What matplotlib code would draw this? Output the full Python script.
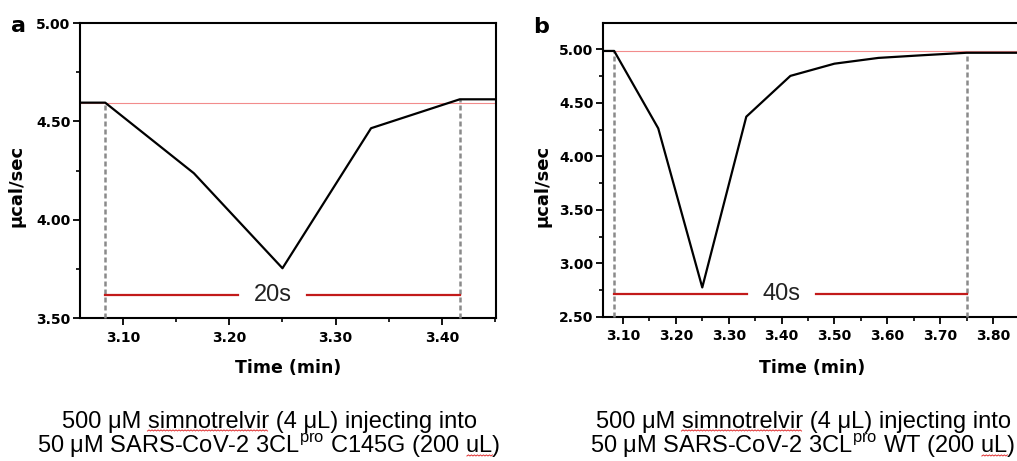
import matplotlib as mpl
mpl.use('Agg')
import matplotlib.pyplot as plt
import numpy as np
from matplotlib.ticker import MultipleLocator, FormatStrFormatter
from matplotlib.lines import Line2D

mpl.rc('font', family='DejaVu Sans', weight='bold')

# panel a: C145G  (time in min, heat rate in ucal/sec)
ta = [3.0, 3.0833, 3.1667, 3.25, 3.3333, 3.4167, 3.5]
ya = [4.595, 4.595, 4.236, 3.753, 4.465, 4.612, 4.612]
base_a = 4.595
win_a = [3.0833, 3.4167]
bar_a = 3.617
lab_a = '20s'

# panel b: WT
tb = [3.0, 3.0833, 3.1667, 3.25, 3.3333, 3.4167, 3.5, 3.5833, 3.6667, 3.75, 3.8333, 3.9167]
yb = [4.985, 4.985, 4.262, 2.776, 4.371, 4.752, 4.866, 4.92, 4.945, 4.968, 4.968, 4.968]
base_b = 4.985
win_b = [3.0833, 3.75]
bar_b = 2.713
lab_b = '40s'

cap_a = ['500 \u03bcM simnotrelvir (4 \u03bcL) injecting into',
         '50 \u03bcM SARS-CoV-2 3CL$^{\\mathregular{pro}}$ C145G (200 uL)']
cap_b = ['500 \u03bcM simnotrelvir (4 \u03bcL) injecting into',
         '50 \u03bcM SARS-CoV-2 3CL$^{\\mathregular{pro}}$ WT (200 uL)']

W, H = 1017, 461
fig = plt.figure(figsize=(W/100, H/100), dpi=100)
axa = fig.add_axes([80/W, 1-318/H, 416/W, 295/H])
axb = fig.add_axes([603/W, 1-317/H, 419/W, 294/H])


def panel(ax, t, y, base, win, bar, lab, labx, gap, xlim, ylim, ymaj):
    ax.plot(t, y, color='k', lw=1.6, zorder=4)
    ax.axhline(base, color='#f28c8c', lw=0.8, zorder=2)
    for w in win:
        yv = np.interp(w, t, y)
        ax.plot([w, w], [ylim[0], yv], color='#8a8a8a', lw=1.8,
                ls=(0, (2.0, 1.2)), zorder=3, clip_on=False)
    ax.plot([win[0], labx-gap], [bar, bar], color='#c21a1a', lw=1.6, zorder=3)
    ax.plot([labx+gap, win[1]], [bar, bar], color='#c21a1a', lw=1.6, zorder=3)
    ax.text(labx, bar, lab, ha='center', va='center', fontsize=17,
            family='Liberation Sans', weight='normal', color='#222222')
    ax.set_xlim(*xlim)
    ax.set_ylim(*ylim)
    ax.xaxis.set_major_locator(MultipleLocator(0.1))
    ax.xaxis.set_minor_locator(MultipleLocator(0.05))
    ax.yaxis.set_major_locator(MultipleLocator(ymaj))
    ax.yaxis.set_minor_locator(MultipleLocator(ymaj/2))
    ax.xaxis.set_major_formatter(FormatStrFormatter('%.2f'))
    ax.yaxis.set_major_formatter(FormatStrFormatter('%.2f'))
    ax.tick_params(which='major', direction='out', length=5, width=1.3, labelsize=10)
    ax.tick_params(which='minor', direction='out', length=3, width=1.2)
    ax.tick_params(axis='y', pad=2)
    ax.tick_params(axis='x', pad=4)
    for s in ax.spines.values():
        s.set_linewidth(1.5)
    ax.set_xlabel('Time (min)', fontsize=12.5, fontweight='bold')
    ax.set_ylabel('\u03bccal/sec', fontsize=13, fontweight='bold')


panel(axa, ta, ya, base_a, win_a, bar_a, lab_a, 3.241, 0.0325,
      (3.0596, 3.4508), (3.5, 5.0), 0.5)
panel(axb, tb, yb, base_b, win_b, bar_b, lab_b, 3.40, 0.0655,
      (3.0622, 3.8549), (2.5, 5.246), 0.5)

axa.xaxis.set_label_coords(0.5, -0.139)
axb.xaxis.set_label_coords(0.5, -0.143)
axa.yaxis.set_label_coords(-0.132, 0.447)
axb.yaxis.set_label_coords(-0.122, 0.446)

fig.text(18/W, 1-32/H, 'a', fontsize=16, weight='bold', ha='center', va='baseline')
fig.text(541/W, 1-33/H, 'b', fontsize=16, weight='bold', ha='center', va='baseline')

capkw = dict(ha='center', va='baseline', fontsize=17, family='Liberation Sans', weight='normal')
texts = []
for cx, cap in [(269, cap_a), (803, cap_b)]:
    t1 = fig.text(cx/W, 1-428/H, cap[0], **capkw)
    t2 = fig.text(cx/W, 1-453/H, cap[1], **capkw)
    texts.append((t1, t2, cap))

# red spell-check squiggles under "simnotrelvir" and "uL"
fig.canvas.draw()
r = fig.canvas.get_renderer()


def width(s):
    tmp = fig.text(0, 0, s, **capkw)
    w = tmp.get_window_extent(r).width
    tmp.remove()
    return w


sp = width('a a') - width('aa')


def squiggle(left, base_px, x0, x1):
    xs = np.arange(left + x0, left + x1, 1.5)
    ys = base_px - 3 + 1.1*(np.arange(len(xs)) % 2)
    pts = fig.transFigure.inverted().transform(np.column_stack([xs, ys]))
    fig.add_artist(Line2D(pts[:, 0], pts[:, 1], color='#e03030', lw=0.7))


for t1, t2, cap in texts:
    b1 = t1.get_window_extent(r)
    b2 = t2.get_window_extent(r)
    base1 = (1-428/H)*H
    base2 = (1-453/H)*H
    squiggle(b1.x0, base1, width('500 \u03bcM') + sp, width('500 \u03bcM simnotrelvir'))
    pre = cap[1].rsplit('uL', 1)[0].rstrip()
    squiggle(b2.x0, base2, width(pre) + sp, width(pre + ' uL'))

fig.savefig('out.png', dpi=100)
